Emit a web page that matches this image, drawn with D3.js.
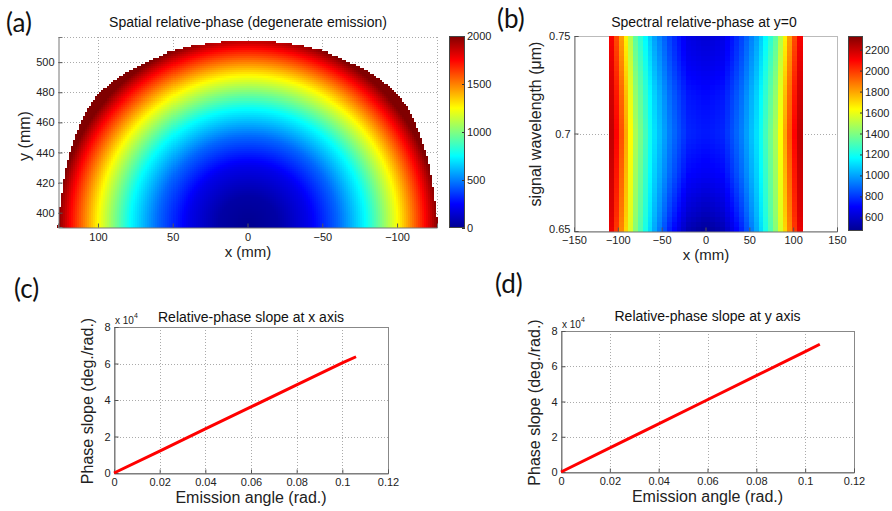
<!DOCTYPE html>
<html>
<head>
<meta charset="utf-8">
<script src="https://cdn.jsdelivr.net/npm/d3@7"></script>
<style>
  body { margin: 0; background: #fff; }
  svg { display: block; font-family: "Liberation Sans", Arial, sans-serif; }
  .tick text { font-size: 11px; fill: #222; }
  .lab { font-size: 15px; fill: #222; }
  .lab2 { font-size: 16px; fill: #222; }
  .ttl { font-size: 14px; fill: #111; }
  .panel { font-family: Lato, "Open Sans", sans-serif; font-size: 26px; fill: #111; }
</style>
</head>
<body>
<div id="chart"></div>
<script>
// ---- panel (a): spatial relative-phase
// phase (deg) against distance (mm) from the dark spot at the bottom centre
const radialDist  = [0, 20, 40, 60, 79, 100, 119, 127];
const radialPhase = [0, 50, 200, 450, 760, 1250, 1760, 2000];
const spotCentre = [0, 391];
// right half of the emission boundary (mirrored for the left half)
const edgeX = [127, 125.5, 122, 118, 112.5, 106.5, 100, 90, 79, 66, 52, 35, 15, 0];
const edgeY = [390.5, 405, 428, 443, 458, 470, 479, 487.5, 494.7, 501, 507, 511, 513.5, 513.5];
const ticksAx = [100, 50, 0, -50, -100];
const ticksAy = [400, 420, 440, 460, 480, 500];
const ticksAc = [0, 500, 1000, 1500, 2000];

// ---- panel (b): spectral relative-phase at y=0
const waveRows = [0.65, 0.66, 0.68, 0.70, 0.72, 0.74, 0.75];
const xCols    = [0, 20, 40, 60, 80, 100, 112];
const phaseB = [
  [480, 540, 740, 1040, 1420, 1950, 2250],
  [560, 610, 800, 1070, 1440, 1980, 2280],
  [680, 710, 880, 1110, 1460, 2020, 2300],
  [740, 770, 920, 1140, 1480, 2060, 2320],
  [710, 740, 890, 1110, 1440, 2020, 2290],
  [640, 670, 830, 1050, 1370, 1950, 2250],
  [610, 650, 810, 1020, 1340, 1920, 2230]
];
const ticksBx = [-150, -100, -50, 0, 50, 100, 150];
const ticksBy = [0.65, 0.7, 0.75];
const ticksBc = [600, 800, 1000, 1200, 1400, 1600, 1800, 2000, 2200];

// ---- panels (c) and (d): phase slope vs emission angle
const angleC = [0, 0.02, 0.04, 0.06, 0.08, 0.1, 0.106];
const slopeC = [0, 12000, 24200, 36200, 48300, 60300, 63700];
const angleD = [0, 0.02, 0.04, 0.06, 0.08, 0.1, 0.106];
const slopeD = [0, 13700, 27300, 41000, 54700, 68300, 72500];
const ticksLx = [0, 0.02, 0.04, 0.06, 0.08, 0.1, 0.12];
const ticksLy = [0, 20000, 40000, 60000, 80000];

const W = 892, H = 511;
const svg = d3.select("#chart").append("svg")
  .attr("width", W).attr("height", H)
  .attr("viewBox", [0, 0, W, H]);

// MATLAB-like jet colour map
const jet = d3.scaleLinear()
  .domain([0, 0.125, 0.375, 0.625, 0.875, 1])
  .range(["#00008f", "#0000ff", "#00ffff", "#ffff00", "#ff0000", "#800000"])
  .clamp(true);
const jetOf = (lo, hi) => v => jet((v - lo) / (hi - lo));

// grid + frame, matlab style
function frame(x, y, xt, yt, opt) {
  const g = svg.append("g");
  const [x0, x1] = x.range(), [y0, y1] = y.range();
  const L = Math.min(x0, x1), R = Math.max(x0, x1), T = Math.min(y0, y1), B = Math.max(y0, y1);
  const grid = g.append("g").attr("stroke", "#aaa").attr("stroke-dasharray", "1,2").attr("stroke-width", 1);
  grid.selectAll(".gx").data(xt).join("line")
    .attr("x1", d => Math.round(x(d)) + 0.5).attr("x2", d => Math.round(x(d)) + 0.5)
    .attr("y1", T).attr("y2", B);
  grid.selectAll(".gy").data(yt).join("line")
    .attr("y1", d => Math.round(y(d)) + 0.5).attr("y2", d => Math.round(y(d)) + 0.5)
    .attr("x1", L).attr("x2", R);
  if (opt && opt.box) {
    g.append("rect").attr("x", L + 0.5).attr("y", T + 0.5).attr("width", R - L).attr("height", B - T)
      .attr("fill", "none").attr("stroke", opt.box);
  }
  return g;
}

function axes(x, y, xt, yt, fx, fy, padX) {
  const [y0] = y.range();
  const x0 = d3.min(x.range());
  const ax = svg.append("g").attr("transform", `translate(0,${Math.round(y0) + 0.5})`)
    .call(d3.axisBottom(x).tickValues(xt).tickSize(-4).tickPadding(padX).tickFormat(fx));
  const ay = svg.append("g").attr("transform", `translate(${Math.round(x0) + 0.5},0)`)
    .call(d3.axisLeft(y).tickValues(yt).tickSize(-4).tickPadding(4).tickFormat(fy));
  for (const a of [ax, ay]) {
    a.select(".domain").attr("stroke", "#777");
    a.selectAll(".tick line").attr("stroke", "#555");
    a.attr("font-family", null).attr("font-size", null);
  }
  return [ax, ay];
}

function colorbar(id, x0, x1, y0, y1, lo, hi, ticks) {
  const grad = svg.append("defs").append("linearGradient").attr("id", id)
    .attr("x1", 0).attr("x2", 0).attr("y1", 1).attr("y2", 0);
  grad.selectAll("stop").data(d3.range(0, 1.0001, 1 / 32)).join("stop")
    .attr("offset", d => d).attr("stop-color", d => jet(d));
  svg.append("rect").attr("x", x0).attr("y", y0).attr("width", x1 - x0).attr("height", y1 - y0)
    .attr("fill", `url(#${id})`);
  const s = d3.scaleLinear([lo, hi], [y1, y0]);
  const a = svg.append("g").attr("transform", `translate(${x1},0)`)
    .call(d3.axisRight(s).tickValues(ticks).tickSize(-3).tickPadding(2).tickFormat(d3.format("d")));
  a.select(".domain").remove();
  a.attr("font-family", null).attr("font-size", null);
  a.selectAll(".tick line").attr("stroke", "#333");
  svg.append("rect").attr("x", x0 + 0.5).attr("y", y0 + 0.5).attr("width", x1 - x0 - 1).attr("height", y1 - y0 - 1)
    .attr("fill", "none").attr("stroke", "#444").attr("stroke-width", 1);
}

function label(txt, x, y, cls, rot) {
  const t = svg.append("text").attr("class", cls).attr("text-anchor", "middle").text(txt);
  if (rot) t.attr("transform", `translate(${x},${y}) rotate(-90)`);
  else t.attr("x", x).attr("y", y);
  return t;
}

// ================= (a) =================
{
  const x = d3.scaleLinear([126.7, -126.7], [58, 437]);
  const y = d3.scaleLinear([390.5, 516.7], [227, 37]);
  const phase = d3.scaleLinear(radialDist, radialPhase).clamp(true);
  const col = jetOf(0, 2000);
  const right = edgeX.map((d, i) => [d, edgeY[i]]);
  const poly = right.concat(right.slice().reverse().map(([a, b]) => [-a, b]));
  const step = 1.34;
  const cells = [];
  for (let xv = -127 + step / 2; xv < 127; xv += step) {
    for (let yv = 390.5 + step / 2; yv < 516; yv += step) {
      if (d3.polygonContains(poly, [xv, yv])) {
        cells.push({ x: xv, y: yv, v: phase(Math.hypot(xv - spotCentre[0], yv - spotCentre[1])) });
      }
    }
  }
  const cw = Math.abs(x(step) - x(0)), ch = Math.abs(y(step) - y(0));
  frame(x, y, ticksAx, ticksAy);
  // top / right edge drawn like the grid
  svg.append("g").attr("stroke", "#aaa").attr("stroke-dasharray", "1,2")
    .call(g => g.append("line").attr("x1", 58).attr("x2", 437).attr("y1", 37.5).attr("y2", 37.5))
    .call(g => g.append("line").attr("x1", 437.5).attr("x2", 437.5).attr("y1", 37).attr("y2", 227));
  svg.append("g").attr("shape-rendering", "crispEdges").selectAll("rect").data(cells).join("rect")
    .attr("x", d => x(d.x + step / 2)).attr("y", d => y(d.y + step / 2))
    .attr("width", cw + 0.6).attr("height", ch + 0.6)
    .attr("fill", d => col(d.v));
  axes(x, y, ticksAx, ticksAy, d3.format("d"), d3.format("d"), 6);
  colorbar("cbA", 449, 465, 36, 228, 0, 2000, ticksAc);
  label("Spatial relative-phase (degenerate emission)", 248, 27, "ttl");
  label("x (mm)", 248, 257, "lab");
  label("y (mm)", 30, 136, "lab2", true);
  svg.append("text").attr("class", "panel").attr("x", 6).attr("y", 32).text("(a)");
}

// ================= (b) =================
{
  const x = d3.scaleLinear([-150, 150], [574, 837]);
  const y = d3.scaleLinear([0.65, 0.75], [231, 36]);
  const col = jetOf(470, 2330);
  const rowScales = phaseB.map(r => d3.scaleLinear(xCols, r));
  const nx = 40, ny = 40, xw = 220 / nx, yh = 0.1 / ny;
  const cells = [];
  for (let i = 0; i < nx; i++) {
    for (let j = 0; j < ny; j++) {
      const xc = -110 + (i + 0.5) * xw, lc = 0.65 + (j + 0.5) * yh;
      const v = d3.scaleLinear(waveRows, rowScales.map(s => s(Math.abs(xc))))(lc);
      cells.push({ x: -110 + i * xw, l: 0.65 + j * yh, v });
    }
  }
  frame(x, y, ticksBx, ticksBy, { box: "#bbb" });
  svg.append("g").attr("shape-rendering", "crispEdges").selectAll("rect").data(cells).join("rect")
    .attr("x", d => x(d.x)).attr("y", d => y(d.l + yh))
    .attr("width", x(xw) - x(0) + 0.6).attr("height", y(0.65) - y(0.65 + yh) + 0.6)
    .attr("fill", d => col(d.v));
  const [bx, by] = axes(x, y, ticksBx, ticksBy, d3.format("d"), d => d3.format("")(d), 5);
  // lift the bottom-left tick label a touch so it clears the x tick label
  by.selectAll(".tick text").filter(d => d === 0.65).attr("dy", "0.1em");
  colorbar("cbB", 848, 863, 36, 231, 470, 2330, ticksBc);
  label("Spectral relative-phase at y=0", 704, 27, "ttl");
  label("x (mm)", 706, 260, "lab");
  label("signal wavelength (μm)", 541, 124, "lab2", true);
  svg.append("text").attr("class", "panel").attr("x", 497).attr("y", 28).text("(b)");
}

// ================= (c) and (d) =================
function slopePanel(ang, slope, box, title, tag, tagPos, titleY) {
  const [L, R, T, B] = box;
  const x = d3.scaleLinear([0, 0.12], [L, R]);
  const y = d3.scaleLinear([0, 80000], [B, T]);
  frame(x, y, ticksLx, ticksLy, { box: "#888" });
  axes(x, y, ticksLx, ticksLy, d => d3.format("")(d), d => d / 10000, 5);
  svg.append("path")
    .datum(ang.map((d, i) => [d, slope[i]]))
    .attr("fill", "none").attr("stroke", "#ff0000").attr("stroke-width", 3)
    .attr("d", d3.line(d => x(d[0]), d => y(d[1])));
  const cx = (L + R) / 2;
  label(title, cx, titleY, "ttl");
  label("Emission angle (rad.)", cx, B + 30, "lab2");
  label("Phase slope (deg./rad.)", L - 21, (T + B) / 2 + 1, "lab2", true);
  const e = svg.append("text").attr("x", L + 1).attr("y", T - 3).attr("font-size", 10).attr("fill", "#222");
  e.append("tspan").text("x 10");
  e.append("tspan").attr("dy", -6).attr("font-size", 7).text("4");
  svg.append("text").attr("class", "panel").attr("x", tagPos[0]).attr("y", tagPos[1]).text(tag);
}
slopePanel(angleC, slopeC, [114, 388, 327, 473], "Relative-phase slope at x axis", "(c)", [14, 298], 322);
slopePanel(angleD, slopeD, [561, 854, 331, 472], "Relative-phase slope at y axis", "(d)", [495, 293], 321);
</script>
</body>
</html>
